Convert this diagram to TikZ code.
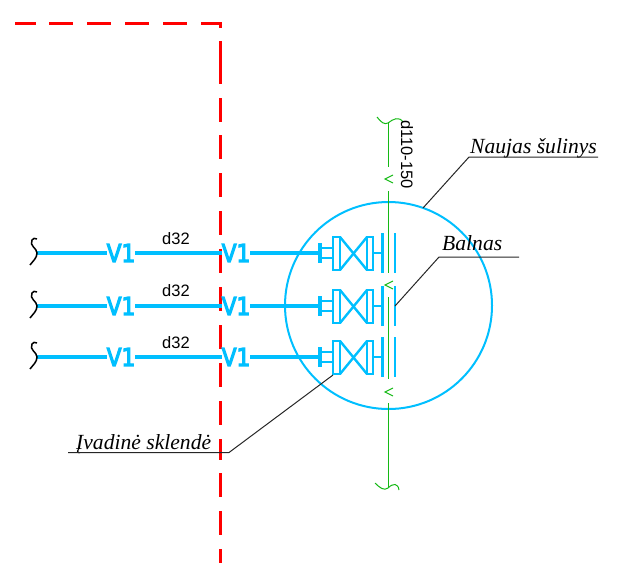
\documentclass[tikz,border=0pt]{standalone}
\usepackage{fontspec}
\setmainfont{Liberation Sans}
\newfontfamily\leaderfont{Liberation Serif}
\newfontfamily\pipefont[FakeBold=5]{DejaVu Sans}
\usetikzlibrary{positioning}
\definecolor{pipeblue}{RGB}{0,191,255}
\definecolor{watergreen}{RGB}{20,185,20}
\tikzset{
    pipe/.style={draw=pipeblue,line width=3.2pt},
    valveline/.style={draw=pipeblue,line width=2.4pt},
    pipelabel/.style={text=pipeblue,font=\pipefont\fontsize{24.5pt}{24.5pt}\selectfont,inner sep=0,outer sep=0,xscale=0.88},
    sizelabel/.style={font=\fontsize{16.5pt}{18pt}\selectfont,inner sep=0},
    leaderlabel/.style={font=\leaderfont\itshape\fontsize{21.6pt}{23pt}\selectfont,inner sep=0,anchor=base west},
    leaderline/.style={draw=black!85,line width=1pt},
    watermain/.style={draw=watergreen,line width=1pt},
    breakline/.style={draw=black,line width=1.5pt},
    boundary/.style={draw=red,line width=3pt,dash pattern=on 21pt off 13pt on 24pt off 14pt on 24pt off 14pt on 24pt off 14pt on 24pt off 14pt on 24pt off 13pt on 43pt off 14pt on 24pt off 13pt on 24pt off 14pt on 24pt off 14pt on 24pt off 14pt on 24pt off 14pt on 24pt off 14pt on 24pt off 14pt on 24pt off 14pt on 24pt off 14pt}
}
\begin{document}
\begin{tikzpicture}[x=1pt,y=-1pt]
    \useasboundingbox (0,0) rectangle (617,563);
    % boundary
    \draw[boundary] (15,23) -- (220,23) -- (220,563);
    % manhole
    \node[circle,draw=pipeblue,line width=2pt,minimum size=207pt,inner sep=0] (manhole) at (388.5,305.5) {};
    % water main
    \coordinate (maintop) at (388,123);
    \coordinate (mainbottom) at (388,488);
    \draw[watermain] (377,117) .. controls (381,122) and (384,125) .. (maintop) .. controls (393,119) and (399,116) .. (403,122);
    \draw[watermain] (maintop) -- (388,167);
    \draw[watermain] (388,191) -- (388,273);
    \draw[watermain] (388,297) -- (388,379);
    \draw[watermain] (388,403) -- (mainbottom);
    \draw[watermain] (375,483) .. controls (380,488) and (384,491) .. (mainbottom) .. controls (393,483) and (398,483) .. (399,490);
    \foreach \chevy in {179,285,392}{
        \draw[watermain] (393,\chevy-4) -- (385,\chevy) -- (393,\chevy+4);
    }
    \node[sizelabel,rotate=-90] (mainsize) at (407,154.5) {d110-150};
    % service lines with valves
    \foreach \i/\y/\ytext in {a/253/239,b/306/291,c/357/343}{
        \coordinate (break\i) at (37,\y);
        \node[pipelabel] (first\i) at (121,\y) {V1};
        \node[pipelabel] (second\i) at (236,\y) {V1};
        \coordinate (flange\i) at (320,\y);
        \node[sizelabel] (size\i) at (176,\ytext) {d32};
        \draw[pipe] (break\i) -- (first\i) -- (second\i) -- (flange\i);
        \draw[breakline] (30,\y+12) .. controls (33,\y+8) and (37,\y+5) .. (break\i) .. controls (37,\y-5) and (29,\y-7) .. (32,\y-13) .. controls (33,\y-15) and (35,\y-15) .. (37,\y-14);
        % gate valve
        \draw[valveline,line width=3.2pt] (320,\y-10) -- (320,\y+10);
        \draw[valveline] (320,\y-5) -- (333,\y-5) (320,\y+5) -- (333,\y+5);
        \draw[valveline] (333,\y-16) rectangle (340,\y+17);
        \draw[valveline] (367,\y-16) rectangle (373,\y+17);
        \draw[valveline] (340,\y-16) -- (367,\y+17) (340,\y+17) -- (367,\y-16);
        \draw[valveline] (373,\y) -- (382.5,\y);
        \draw[valveline] (382.5,\y-20) -- (382.5,\y+20);
        \draw[valveline] (395,\y-20) -- (395,\y+20);
    }
    % labels
    \node[leaderlabel] (wellname) at (470,153) {Naujas šulinys};
    \node[leaderlabel] (saddlename) at (442,250) {Balnas};
    \node[leaderlabel] (valvename) at (76,449) {Įvadinė sklendė};
    \draw[leaderline] (598,157) coordinate (wellend) -- (469,157) coordinate (wellknee) -- (423,208) coordinate (welltip);
    \draw[leaderline] (519,257) coordinate (saddleend) -- (439,257) coordinate (saddleknee) -- (395,306) coordinate (saddletip);
    \draw[leaderline] (68,452.5) coordinate (valveend) -- (229,452.5) coordinate (valveknee) -- (333,375) coordinate (valvetip);
\end{tikzpicture}
\end{document}
